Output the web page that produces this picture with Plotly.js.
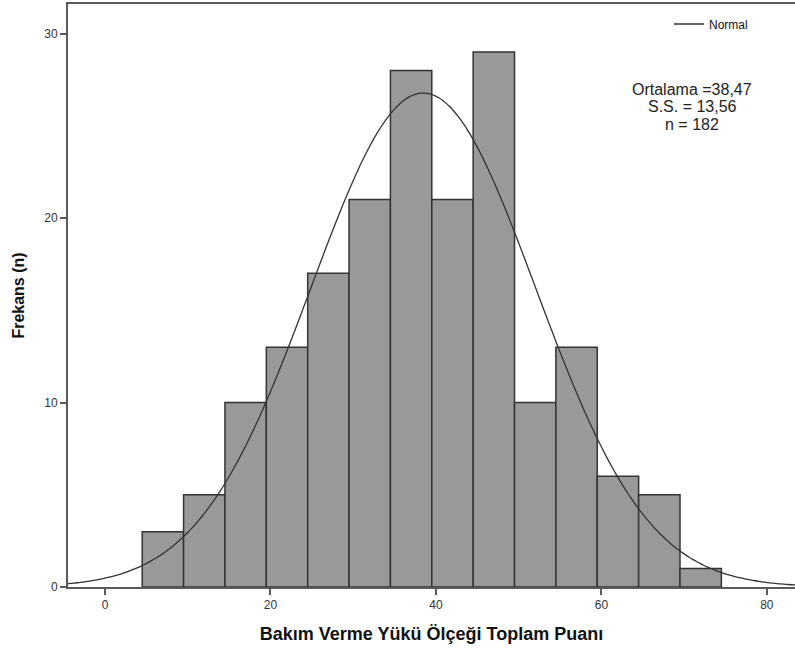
<!DOCTYPE html>
<html>
<head>
<meta charset="utf-8">
<script src="https://cdn.plot.ly/plotly-3.0.1.min.js"></script>
<style>html,body{margin:0;padding:0;background:#fff;}#chart{width:795px;height:655px;}</style>
</head>
<body>
<div id="chart"></div>
<script>
// Histogram bins (lower edges, width 5) and counts
const binStarts = [4.5, 9.5, 14.5, 19.5, 24.5, 29.5, 34.5, 39.5, 44.5, 49.5, 54.5, 59.5, 64.5, 69.5];
const binWidth = 5;
const counts = [3, 5, 10, 13, 17, 21, 28, 21, 29, 10, 13, 6, 5, 1];
// Normal curve parameters as stated in the chart
const mean = 38.47;
const sd = 13.56;
const n = 182;
const statLines = ['Ortalama =38,47', 'S.S. = 13,56', 'n = 182'];
const xTicks = [0, 20, 40, 60, 80];
const yTicks = [0, 10, 20, 30];

const centers = binStarts.map(s => s + binWidth / 2);

const xr = [-4.47, 83.4];
const cx = [], cy = [];
for (let i = 0; i <= 200; i++) {
  const x = xr[0] + (xr[1] - xr[0]) * i / 200;
  cx.push(x);
  cy.push(n * binWidth / (sd * Math.sqrt(2 * Math.PI)) * Math.exp(-0.5 * Math.pow((x - mean) / sd, 2)));
}

const font = "Liberation Sans, Arial, sans-serif";

const traces = [
  {
    type: 'bar', x: centers, y: counts, width: binWidth,
    marker: {color: '#999999', line: {color: '#333333', width: 1.5}},
    showlegend: false, hoverinfo: 'skip'
  },
  {
    type: 'scatter', mode: 'lines', x: cx, y: cy, name: 'Normal',
    line: {color: '#333333', width: 1.3, shape: 'spline'}
  }
];

// plot area: top 4px, bottom 587px (height 583)
const lineY = [89, 106.5, 124];
const annotations = statLines.map((t, i) => ({
  xref: 'paper', yref: 'paper', x: 0.8585, y: (587 - lineY[i]) / 583,
  xanchor: 'center', yanchor: 'middle', text: t, showarrow: false,
  font: {family: font, size: 16, color: '#222222'}
}));

const layout = {
  width: 795, height: 655,
  margin: {l: 68, r: 0, t: 4, b: 68},
  paper_bgcolor: '#ffffff', plot_bgcolor: '#ffffff',
  font: {family: font, color: '#333333', size: 12},
  bargap: 0,
  xaxis: {
    range: xr, tickvals: xTicks, ticktext: xTicks.map(String),
    ticks: 'outside', ticklen: 6, tickwidth: 2, tickcolor: '#5a5a5a',
    showline: true, linecolor: '#5a5a5a', linewidth: 2, mirror: true,
    showgrid: false, zeroline: false,
    tickfont: {family: font, size: 12, color: '#333333'},
    title: {text: 'Bakım Verme Yükü Ölçeği Toplam Puanı', font: {family: font, size: 18, color: '#111111', weight: 'bold'}, standoff: 16}
  },
  yaxis: {
    range: [0, 31.6], tickvals: yTicks, ticktext: yTicks.map(String),
    ticks: 'outside', ticklen: 6, tickwidth: 2, tickcolor: '#5a5a5a',
    showline: true, linecolor: '#5a5a5a', linewidth: 2,
    showgrid: false, zeroline: false,
    tickfont: {family: font, size: 12, color: '#333333'},
    title: {text: 'Frekans (n)', font: {family: font, size: 16, color: '#111111', weight: 'bold'}, standoff: 16}
  },
  showlegend: true,
  legend: {
    x: 0.8267, y: 0.9906, xanchor: 'left', yanchor: 'top',
    bgcolor: 'rgba(0,0,0,0)', itemwidth: 30,
    font: {family: font, size: 12, color: '#111111'}
  },
  annotations: annotations
};

Plotly.newPlot('chart', traces, layout, {displayModeBar: false, staticPlot: true});
</script>
</body>
</html>
